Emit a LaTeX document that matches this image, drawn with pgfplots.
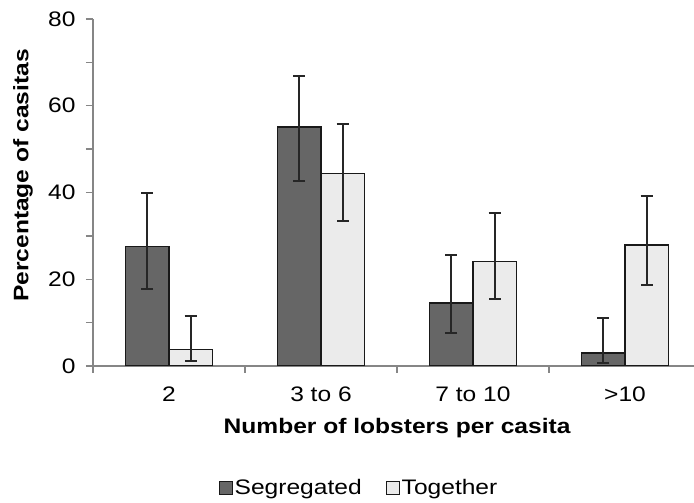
\documentclass[border=0pt]{standalone}
\usepackage{fontspec}
\setmainfont{Liberation Sans}[FakeStretch=1.17]
\usepackage{pgfplots}
\pgfplotsset{compat=1.18}
\definecolor{segc}{HTML}{666666}
\definecolor{togc}{HTML}{EBEBEB}
\definecolor{axc}{HTML}{868686}
\pgfplotsset{sqleg/.style={legend image code/.code={\draw[##1, line width=1pt] (0pt,-6.5pt) rectangle (13pt,6.5pt);}}}
\begin{document}
\begin{tikzpicture}
\path[use as bounding box] (-93pt,-137pt) rectangle (601pt,366pt);
\begin{axis}[
  at={(0pt,0pt)}, anchor=south west,
  scale only axis, width=601pt, height=347pt,
  xmin=-0.5, xmax=3.454, ymin=0, ymax=80,
  axis lines*=left,
  axis line style={draw=axc, line width=1.3pt},
  ytick={0,20,40,60,80}, minor ytick={10,30,50,70},
  xtick={0,1,2,3}, xticklabels={2,3 to 6,7 to 10,{>10}},
  minor xtick={-0.5,0.5,1.5,2.5},
  major x tick style={draw=none},
  tick align=outside, major tick length=7pt, minor tick length=7pt,
  every tick/.style={draw=axc, line width=1.3pt},
  /pgf/number format/assume math mode=true,
  tick label style={font=\fontsize{21}{25}\selectfont, text=black},
  yticklabel style={xshift=-7pt},
  xticklabel style={yshift=-10pt},
  ylabel={Percentage of casitas},
  ylabel style={font=\bfseries\fontsize{21}{25}\selectfont, at={(axis description cs:-0.1165,0.549)}, anchor=center},
  xlabel={Number of lobsters per casita},
  xlabel style={font=\bfseries\fontsize{21}{25}\selectfont, at={(axis description cs:0.506,-0.179)}, anchor=center},
  ybar=0pt, bar width=43.5pt,
  legend style={at={(axis description cs:0.4426,-0.3516)}, anchor=center, draw=none, fill=none,
    legend columns=2, font=\fontsize{21}{25}\selectfont,
    /tikz/every even column/.append style={column sep=22pt}},
  legend cell align=left,
]
\addplot[fill=segc, draw=black!90, line width=1.3pt, sqleg,
  error bars/.cd, y dir=both, y explicit, error mark=|,
  error bar style={line width=2pt, black!85},
  error mark options={line width=2pt, black!85, mark size=6pt}]
coordinates {
  (0,27.5) += (0,12.4) -= (0,9.7)
  (1,55.1) += (0,11.8) -= (0,12.4)
  (2,14.5) += (0,11.0) -= (0,6.9)
  (3,3.0)  += (0,8.1)  -= (0,2.4)
};
\addlegendentry{Segregated}
\addplot[fill=togc, draw=black!90, line width=1.3pt, sqleg,
  error bars/.cd, y dir=both, y explicit, error mark=|,
  error bar style={line width=2pt, black!85},
  error mark options={line width=2pt, black!85, mark size=6pt}]
coordinates {
  (0,3.8)  += (0,7.7)  -= (0,2.7)
  (1,44.4) += (0,11.5) -= (0,11.0)
  (2,24.1) += (0,11.2) -= (0,8.6)
  (3,27.9) += (0,11.4) -= (0,9.2)
};
\addlegendentry{Together}
\end{axis}
\end{tikzpicture}
\end{document}
